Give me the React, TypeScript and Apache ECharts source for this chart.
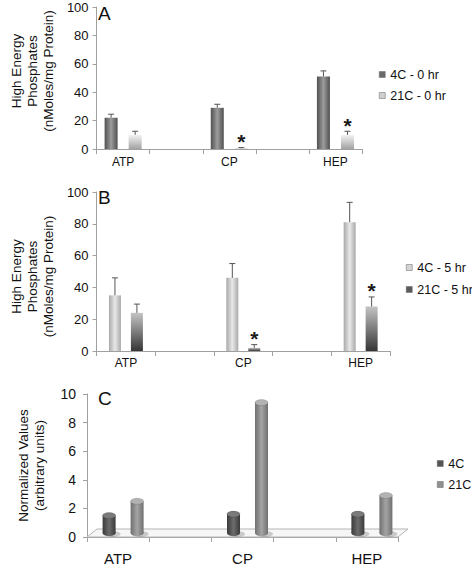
import React, { useEffect, useRef } from 'react';
import * as echarts from 'echarts';

// ---------- data ----------
const groups = ['ATP', 'CP', 'HEP'];

const a4C = [22, 29, 51];
const a4CErr = [2.5, 2.5, 4];
const a21C = [10, 0.5, 10];
const a21CErr = [2.5, 0.5, 2.5];
const aSig = [false, true, true];

const b4C = [35, 46, 81];
const b4CErr = [11, 9, 12.5];
const b21C = [24, 2, 28];
const b21CErr = [5.5, 2, 6];
const bSig = [false, true, true];

const c4C = [1.5, 1.6, 1.6];
const c21C = [2.5, 9.4, 2.9];

const legendA = ['4C - 0 hr', '21C - 0 hr'];
const legendB = ['4C - 5 hr', '21C - 5 hr'];
const legendC = ['4C', '21C'];

const yMaxAB = 100;
const yStepAB = 20;
const yMaxC = 10;
const yStepC = 2;

const yTitleAB = 'High Energy\nPhosphates\n(nMoles/mg Protein)';
const yTitleC = 'Normalized Values\n(arbitrary units)';

// ---------- helpers ----------
const FONT = 'Liberation Sans, Arial, Helvetica, sans-serif';
const spaced = groups.flatMap((g, i) => (i < groups.length - 1 ? [g, ''] : [g]));
const toPairs = (arr: number[]) => arr.map((v, i) => [i * 2, v]);
const toErr = (arr: number[], err: number[], sig?: boolean[]) =>
  arr.map((v, i) => [i * 2, v, err[i], sig && sig[i] ? 1 : 0]);

const hGrad = (edge: string, mid: string) =>
  new echarts.graphic.LinearGradient(0, 0, 1, 0, [
    { offset: 0, color: edge },
    { offset: 0.5, color: mid },
    { offset: 1, color: edge },
  ]);
const vGrad = (top: string, bottom: string) =>
  new echarts.graphic.LinearGradient(0, 0, 0, 1, [
    { offset: 0, color: top },
    { offset: 1, color: bottom },
  ]);

const errRender = (offset: number) => (params: any, api: any) => {
  const x = api.value(0);
  const v = api.value(1);
  const e = api.value(2);
  const s = api.value(3);
  const p0 = api.coord([x, v]);
  const p1 = api.coord([x, v + e]);
  const cx = p0[0] + offset;
  const children: any[] = [
    { type: 'line', shape: { x1: cx, y1: p0[1], x2: cx, y2: p1[1] }, style: { stroke: '#555', lineWidth: 1 } },
    { type: 'line', shape: { x1: cx - 3, y1: p1[1], x2: cx + 3, y2: p1[1] }, style: { stroke: '#555', lineWidth: 1 } },
  ];
  if (s) {
    children.push({
      type: 'text',
      x: cx,
      y: p1[1] - 6,
      style: { text: '*', font: `bold 21px ${FONT}`, fill: '#1a1a1a', align: 'center', verticalAlign: 'middle' },
    });
  }
  return { type: 'group', children };
};

const cylRender = (offset: number, side: any, top: string) => (params: any, api: any) => {
  const x = api.value(0);
  const v = api.value(1);
  const pb = api.coord([x, 0]);
  const pt = api.coord([x, v]);
  const w = 13;
  const ry = 3;
  const cx = pb[0] + offset;
  const yb = pb[1] - 4;
  const yt = pt[1];
  return {
    type: 'group',
    children: [
      { type: 'ellipse', shape: { cx: cx + 3, cy: yb + 1, rx: w / 2 + 2, ry: ry }, style: { fill: 'rgba(0,0,0,0.18)' } },
      { type: 'ellipse', shape: { cx, cy: yb, rx: w / 2, ry }, style: { fill: side } },
      { type: 'rect', shape: { x: cx - w / 2, y: yt, width: w, height: yb - yt }, style: { fill: side } },
      { type: 'ellipse', shape: { cx, cy: yt, rx: w / 2, ry }, style: { fill: top, stroke: 'rgba(0,0,0,0.25)', lineWidth: 0.5 } },
    ],
  };
};

const floorRender = (params: any, api: any) => {
  const pL = api.coord([0, 0]);
  const pR = api.coord([spaced.length - 1, 0]);
  const half = api.size([1, 0])[0] / 2;
  const dx = 10;
  const dy = -8;
  return {
    type: 'polygon',
    shape: {
      points: [
        [pL[0] - half, pL[1]],
        [pR[0] + half, pR[1]],
        [pR[0] + half + dx, pR[1] + dy],
        [pL[0] - half + dx, pL[1] + dy],
      ],
    },
    style: { fill: '#f6f6f6', stroke: '#b5b5b5', lineWidth: 1 },
  };
};

const axisLineStyle = { lineStyle: { color: '#a0a0a0', width: 1 } };

const xAxisDef = (gridIndex: number, fontSize: number, margin: number) => ({
  type: 'category',
  gridIndex,
  data: spaced,
  boundaryGap: true,
  axisLine: axisLineStyle,
  axisTick: { show: true, length: 5, lineStyle: { color: '#a0a0a0' } },
  axisLabel: { color: '#111', fontSize, fontFamily: FONT, margin, interval: 0 },
  splitLine: { show: false },
});

const yAxisDef = (
  gridIndex: number,
  max: number,
  step: number,
  name: string,
  nameGap: number,
  fontSize: number,
  margin: number,
  padding: number[],
) => ({
  type: 'value',
  gridIndex,
  min: 0,
  max,
  interval: step,
  axisLine: { show: true, ...axisLineStyle },
  axisTick: { show: true, length: 4, lineStyle: { color: '#a0a0a0' } },
  axisLabel: { color: '#111', fontSize, fontFamily: FONT, margin },
  splitLine: { show: false },
  name,
  nameLocation: 'middle',
  nameRotate: 90,
  nameGap,
  nameTextStyle: { color: '#111', fontSize: 13.5, fontFamily: FONT, lineHeight: 16, padding },
});

// bar geometry
const AW = 13;
const AG = 0.85;
const BW = 12;
const BG = 0.83;
const aOff = (AW + AW * AG) / 2;
const bOff = (BW + BW * BG) / 2;

export default function App() {
  const ref = useRef<HTMLDivElement>(null);

  useEffect(() => {
    if (!ref.current) return;
    const chart = echarts.init(ref.current, undefined, { renderer: 'svg' });

    const cSide4 = hGrad('#3a3a3a', '#6c6c6c');
    const cSide21 = hGrad('#707070', '#a4a4a4');

    const legendStyle = (left: number, top: number, gap: number, names: string[], colors: string[]) => ({
      orient: 'vertical',
      left,
      top,
      padding: 0,
      itemGap: gap,
      itemWidth: 6,
      itemHeight: 6,
      icon: 'rect',
      textStyle: { fontSize: 12.5, fontFamily: FONT, color: '#111' },
      data: names.map((n, i) => ({ name: n, itemStyle: { color: colors[i], borderColor: '#666', borderWidth: 0.5 } })),
    });

    const option: any = {
      animation: false,
      backgroundColor: '#ffffff',
      textStyle: { fontFamily: FONT },
      grid: [
        { left: 87, top: 7, width: 275, height: 142 },
        { left: 87, top: 192, width: 303, height: 159 },
        { left: 87, top: 394, width: 311, height: 144 },
      ],
      xAxis: [xAxisDef(0, 12, 7), xAxisDef(1, 12, 6), xAxisDef(2, 15, 14)],
      yAxis: [
        yAxisDef(0, yMaxAB, yStepAB, yTitleAB, 39, 13, 8, [0, 0, 0, 14]),
        yAxisDef(1, yMaxAB, yStepAB, yTitleAB, 39, 13, 8, [0, 10, 0, 0]),
        yAxisDef(2, yMaxC, yStepC, yTitleC, 40, 14, 11, [0, 0, 0, 0]),
      ],
      legend: [
        legendStyle(379, 68, 8, legendA, ['#6a6a6a', '#d0d0d0']),
        legendStyle(406, 261, 9, legendB, ['#d4d4d4', '#5a5a5a']),
        legendStyle(437, 457, 8, legendC, ['#555555', '#909090']),
      ],
      graphic: [
        { type: 'text', left: 98, top: 4, style: { text: 'A', font: `19px ${FONT}`, fill: '#111' } },
        { type: 'text', left: 98, top: 188, style: { text: 'B', font: `19px ${FONT}`, fill: '#111' } },
        { type: 'text', left: 98, top: 389, style: { text: 'C', font: `19px ${FONT}`, fill: '#111' } },
      ],
      series: [
        // Panel A
        {
          name: legendA[0], type: 'bar', xAxisIndex: 0, yAxisIndex: 0,
          data: toPairs(a4C), barWidth: AW, barGap: `${AG * 100}%`,
          itemStyle: { color: hGrad('#505050', '#9c9c9c') },
        },
        {
          name: legendA[1], type: 'bar', xAxisIndex: 0, yAxisIndex: 0,
          data: toPairs(a21C), barWidth: AW, barGap: `${AG * 100}%`,
          itemStyle: { color: vGrad('#f4f4f4', '#a2a2a2') },
        },
        {
          name: 'errA4C', type: 'custom', xAxisIndex: 0, yAxisIndex: 0,
          data: toErr(a4C, a4CErr), renderItem: errRender(-aOff), z: 5,
        },
        {
          name: 'errA21C', type: 'custom', xAxisIndex: 0, yAxisIndex: 0,
          data: toErr(a21C, a21CErr, aSig), renderItem: errRender(aOff), z: 5,
        },
        // Panel B
        {
          name: legendB[0], type: 'bar', xAxisIndex: 1, yAxisIndex: 1,
          data: toPairs(b4C), barWidth: BW, barGap: `${BG * 100}%`,
          itemStyle: { color: hGrad('#a9a9a9', '#e8e8e8') },
        },
        {
          name: legendB[1], type: 'bar', xAxisIndex: 1, yAxisIndex: 1,
          data: toPairs(b21C), barWidth: BW, barGap: `${BG * 100}%`,
          itemStyle: { color: vGrad('#c4c4c4', '#353535') },
        },
        {
          name: 'errB4C', type: 'custom', xAxisIndex: 1, yAxisIndex: 1,
          data: toErr(b4C, b4CErr), renderItem: errRender(-bOff), z: 5,
        },
        {
          name: 'errB21C', type: 'custom', xAxisIndex: 1, yAxisIndex: 1,
          data: toErr(b21C, b21CErr, bSig), renderItem: errRender(bOff), z: 5,
        },
        // Panel C
        {
          name: 'floor', type: 'custom', xAxisIndex: 2, yAxisIndex: 2,
          data: [[0, 0]], renderItem: floorRender, z: 1, silent: true,
        },
        {
          name: legendC[0], type: 'custom', xAxisIndex: 2, yAxisIndex: 2,
          data: toPairs(c4C), renderItem: cylRender(-9, cSide4, '#7a7a7a'), z: 3,
          itemStyle: { color: '#555555' },
        },
        {
          name: legendC[1], type: 'custom', xAxisIndex: 2, yAxisIndex: 2,
          data: toPairs(c21C), renderItem: cylRender(19, cSide21, '#b2b2b2'), z: 3,
          itemStyle: { color: '#909090' },
        },
      ],
    };

    chart.setOption(option);
    return () => chart.dispose();
  }, []);

  return (
    <div
      ref={ref}
      style={{ position: 'absolute', left: 0, top: 0, width: 472, height: 566, background: '#fff' }}
    />
  );
}
